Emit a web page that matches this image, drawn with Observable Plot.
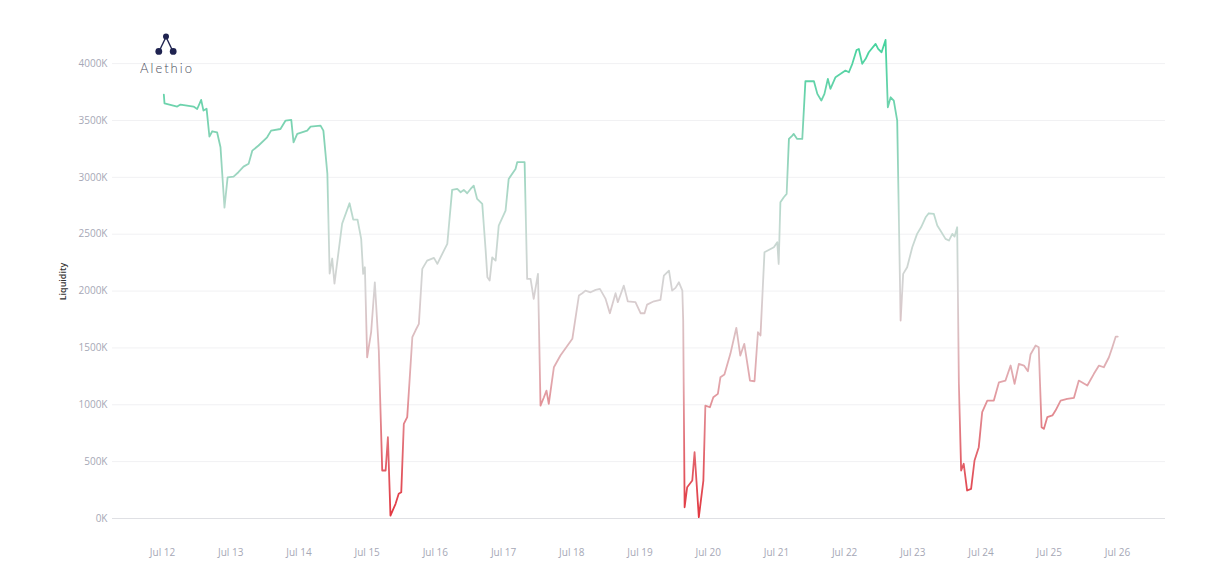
<!DOCTYPE html>
<html>
<head>
<meta charset="utf-8">
<script src="https://cdn.jsdelivr.net/npm/d3@7"></script>
<script src="https://cdn.jsdelivr.net/npm/@observablehq/plot@0.6"></script>
<style>
  html, body { margin: 0; padding: 0; background: #fff; }
  #wrap { position: relative; width: 1226px; height: 568px; }
  #logo { position: absolute; left: 130px; top: 33px; width: 72px; text-align: center; }
  #logo svg { display: block; margin: 0 auto; }
  #logo .name { font-family: Lato, "Noto Sans", sans-serif; font-weight: 300; font-size: 13px; letter-spacing: 2px; color: #4a4c5a; line-height: 14px; margin-top: 6px; padding-left: 2px; }
</style>
</head>
<body>
<div id="wrap">
  <div id="chart"></div>
  <div id="logo">
    <svg width="22" height="22" viewBox="0 0 22 22">
      <line x1="11" y1="4" x2="4" y2="18.5" stroke="#1f2350" stroke-width="1.4"/>
      <line x1="11" y1="4" x2="18" y2="18.5" stroke="#1f2350" stroke-width="1.4"/>
      <circle cx="11" cy="3.6" r="3" fill="#1f2350"/>
      <circle cx="3.8" cy="18.4" r="3.4" fill="#1f2350"/>
      <circle cx="18.2" cy="18.4" r="3.4" fill="#1f2350"/>
    </svg>
    <div class="name">Alethio</div>
  </div>
</div>
<script>
// hours since Jul 12 00:00 (UTC)
const hours = [0.46, 0.70, 5.17, 6.33, 10.9, 12.2, 13.6, 14.4, 15.5, 16.5, 17.5, 19.2, 20.4, 21.8, 22.9, 25.0, 26.7, 28.5, 30.3, 31.6, 33.8, 36.8, 38.2, 41.5, 43.3, 45.3, 46.1, 47.4, 50.9, 52.1, 55.6, 56.6, 58.0, 58.8, 59.7, 60.5, 63.2, 65.8, 67.1, 68.6, 69.9, 70.6, 71.2, 72.0, 73.4, 74.7, 76.1, 77.3, 78.5, 79.3, 80.2, 82.0, 83.1, 84.0, 84.9, 86.1, 87.9, 89.0, 90.2, 91.4, 93.1, 95.5, 96.7, 99.0, 100.2, 101.9, 103.7, 104.9, 106.0, 107.2, 108.4, 109.5, 110.7, 112.5, 113.7, 114.3, 115.1, 116.0, 117.2, 118.3, 120.7, 121.8, 124.2, 124.8, 127.4, 128.3, 129.5, 130.6, 132.1, 133.0, 134.2, 135.1, 135.9, 137.7, 140.0, 144.2, 146.5, 147.7, 148.8, 150.6, 152.4, 153.9, 155.9, 157.4, 159.4, 160.2, 162.3, 163.7, 166.4, 168.2, 169.6, 170.5, 172.9, 175.2, 176.4, 178.2, 179.3, 180.5, 181.7, 182.9, 183.2, 183.7, 184.6, 186.4, 187.2, 188.7, 190.3, 191.0, 192.6, 193.8, 195.4, 196.3, 197.7, 199.8, 201.9, 203.3, 204.7, 206.7, 208.3, 209.5, 210.4, 211.8, 215.1, 216.3, 216.8, 217.4, 218.6, 219.6, 220.4, 221.6, 222.1, 223.3, 225.1, 226.2, 229.2, 230.4, 231.8, 232.9, 234.1, 235.0, 236.8, 238.6, 240.3, 241.5, 242.7, 244.2, 245.0, 246.2, 247.4, 248.5, 250.9, 251.8, 253.0, 254.4, 255.2, 256.2, 257.3, 258.5, 259.7, 260.6, 262.0, 263.8, 265.5, 266.9, 268.5, 269.6, 271.4, 272.6, 273.7, 275.5, 276.7, 277.9, 278.7, 279.6, 280.2, 281.0, 281.9, 283.1, 284.5, 285.7, 287.2, 288.4, 290.2, 292.5, 294.3, 296.6, 298.4, 299.8, 301.3, 303.1, 304.5, 305.4, 307.2, 308.3, 309.3, 310.1, 311.3, 313.1, 314.2, 316.0, 318.3, 320.7, 322.4, 325.4, 327.7, 329.5, 331.2, 333.0, 334.2, 335.4, 336.1];
// liquidity in thousands (K)
const liquidityK = [3727, 3651, 3622, 3640, 3622, 3601, 3681, 3587, 3604, 3358, 3405, 3396, 3264, 2734, 3000, 3006, 3045, 3094, 3120, 3235, 3280, 3352, 3411, 3425, 3499, 3505, 3308, 3382, 3411, 3446, 3455, 3411, 3033, 2154, 2286, 2066, 2593, 2772, 2629, 2629, 2459, 2151, 2209, 1418, 1638, 2077, 1477, 422, 422, 715, 26, 129, 217, 231, 832, 891, 1594, 1653, 1711, 2195, 2268, 2292, 2239, 2356, 2415, 2890, 2898, 2869, 2890, 2860, 2898, 2927, 2810, 2766, 2356, 2121, 2092, 2297, 2268, 2576, 2708, 2986, 3074, 3133, 3133, 2107, 2107, 1931, 2151, 993, 1066, 1125, 1008, 1330, 1433, 1580, 1960, 1981, 2004, 1989, 2010, 2019, 1931, 1805, 1981, 1902, 2048, 1910, 1902, 1805, 1805, 1881, 1910, 1922, 2136, 2180, 2004, 2028, 2077, 2004, 1741, 99, 275, 334, 583, 12, 334, 993, 978, 1066, 1096, 1242, 1266, 1448, 1677, 1433, 1536, 1213, 1207, 1638, 1609, 2341, 2385, 2430, 2239, 2781, 2825, 2854, 3338, 3367, 3382, 3338, 3338, 3845, 3845, 3734, 3675, 3734, 3866, 3778, 3881, 3910, 3939, 3924, 3998, 4120, 4129, 3998, 4042, 4100, 4173, 4129, 4100, 4208, 3616, 3704, 3675, 3499, 1741, 2151, 2209, 2385, 2503, 2561, 2649, 2684, 2678, 2576, 2532, 2459, 2444, 2503, 2479, 2561, 1184, 422, 481, 246, 261, 510, 627, 935, 1037, 1037, 1198, 1213, 1345, 1184, 1360, 1345, 1295, 1442, 1521, 1506, 803, 788, 891, 906, 949, 1037, 1052, 1061, 1213, 1169, 1272, 1345, 1330, 1418, 1506, 1600, 1600];
const yTicks = [0, 500, 1000, 1500, 2000, 2500, 3000, 3500, 4000];
const dayTicks = [12, 13, 14, 15, 16, 17, 18, 19, 20, 21, 22, 23, 24, 25, 26];

const t0 = Date.UTC(2019, 6, 12);
const H = 36e5;
const data = hours.map((h, i) => ({date: new Date(t0 + h * H), value: liquidityK[i]}));
const tickDates = dayTicks.map(d => new Date(Date.UTC(2019, 6, d)));

const chart = Plot.plot({
  width: 1226,
  height: 568,
  marginLeft: 112,
  marginRight: 61,
  marginTop: 29,
  marginBottom: 50,
  style: {fontFamily: "'Open Sans', 'Noto Sans', sans-serif", fontSize: "10px", color: "#a6a8b6", background: "#fff"},
  x: {type: "utc", domain: [new Date(t0 - 17.6 * H), new Date(t0 + 352.9 * H)]},
  y: {domain: [0, 4300]},
  marks: [
    Plot.gridY(yTicks.filter(d => d > 0), {stroke: "#f1f1f3", strokeOpacity: 1}),
    Plot.ruleY([0], {stroke: "#dfe0e4"}),
    Plot.axisY(yTicks, {tickSize: 0, tickPadding: 5, tickFormat: d => d + "K", label: null, fill: "#a6a8b6"}),
    Plot.axisX(tickDates, {tickSize: 0, tickPadding: 30, tickFormat: d3.utcFormat("%b %-d"), label: null, fill: "#a6a8b6"}),
    Plot.text(["Liquidity"], {frameAnchor: "left", textAnchor: "middle", dx: -49, dy: 7.5, rotate: -90, fill: "#333", fontSize: 9, fontWeight: 600}),
    Plot.line(data, {x: "date", y: "value", stroke: "url(#liqGrad)", strokeWidth: 1.8})
  ]
});

// vertical colour gradient: red (low) -> grey (mid) -> green (high)
const yScale = chart.scale("y");
const gTop = yScale.apply(4300), gBottom = yScale.apply(0);
const col = d3.scaleLinear()
  .domain([0, 600, 1200, 2000, 2600, 3300, 4300])
  .range(["#e2353f", "#e26870", "#e2a5ab", "#d6d2d3", "#c2dad1", "#86d3b6", "#3ed39b"]);
const defs = d3.select(chart).insert("defs", ":first-child");
const grad = defs.append("linearGradient")
  .attr("id", "liqGrad")
  .attr("gradientUnits", "userSpaceOnUse")
  .attr("x1", 0).attr("x2", 0)
  .attr("y1", gTop).attr("y2", gBottom);
d3.range(0, 4301, 100).reverse().forEach(v => {
  grad.append("stop").attr("offset", (4300 - v) / 4300).attr("stop-color", col(v));
});

document.getElementById("chart").appendChild(chart);
</script>
</body>
</html>
